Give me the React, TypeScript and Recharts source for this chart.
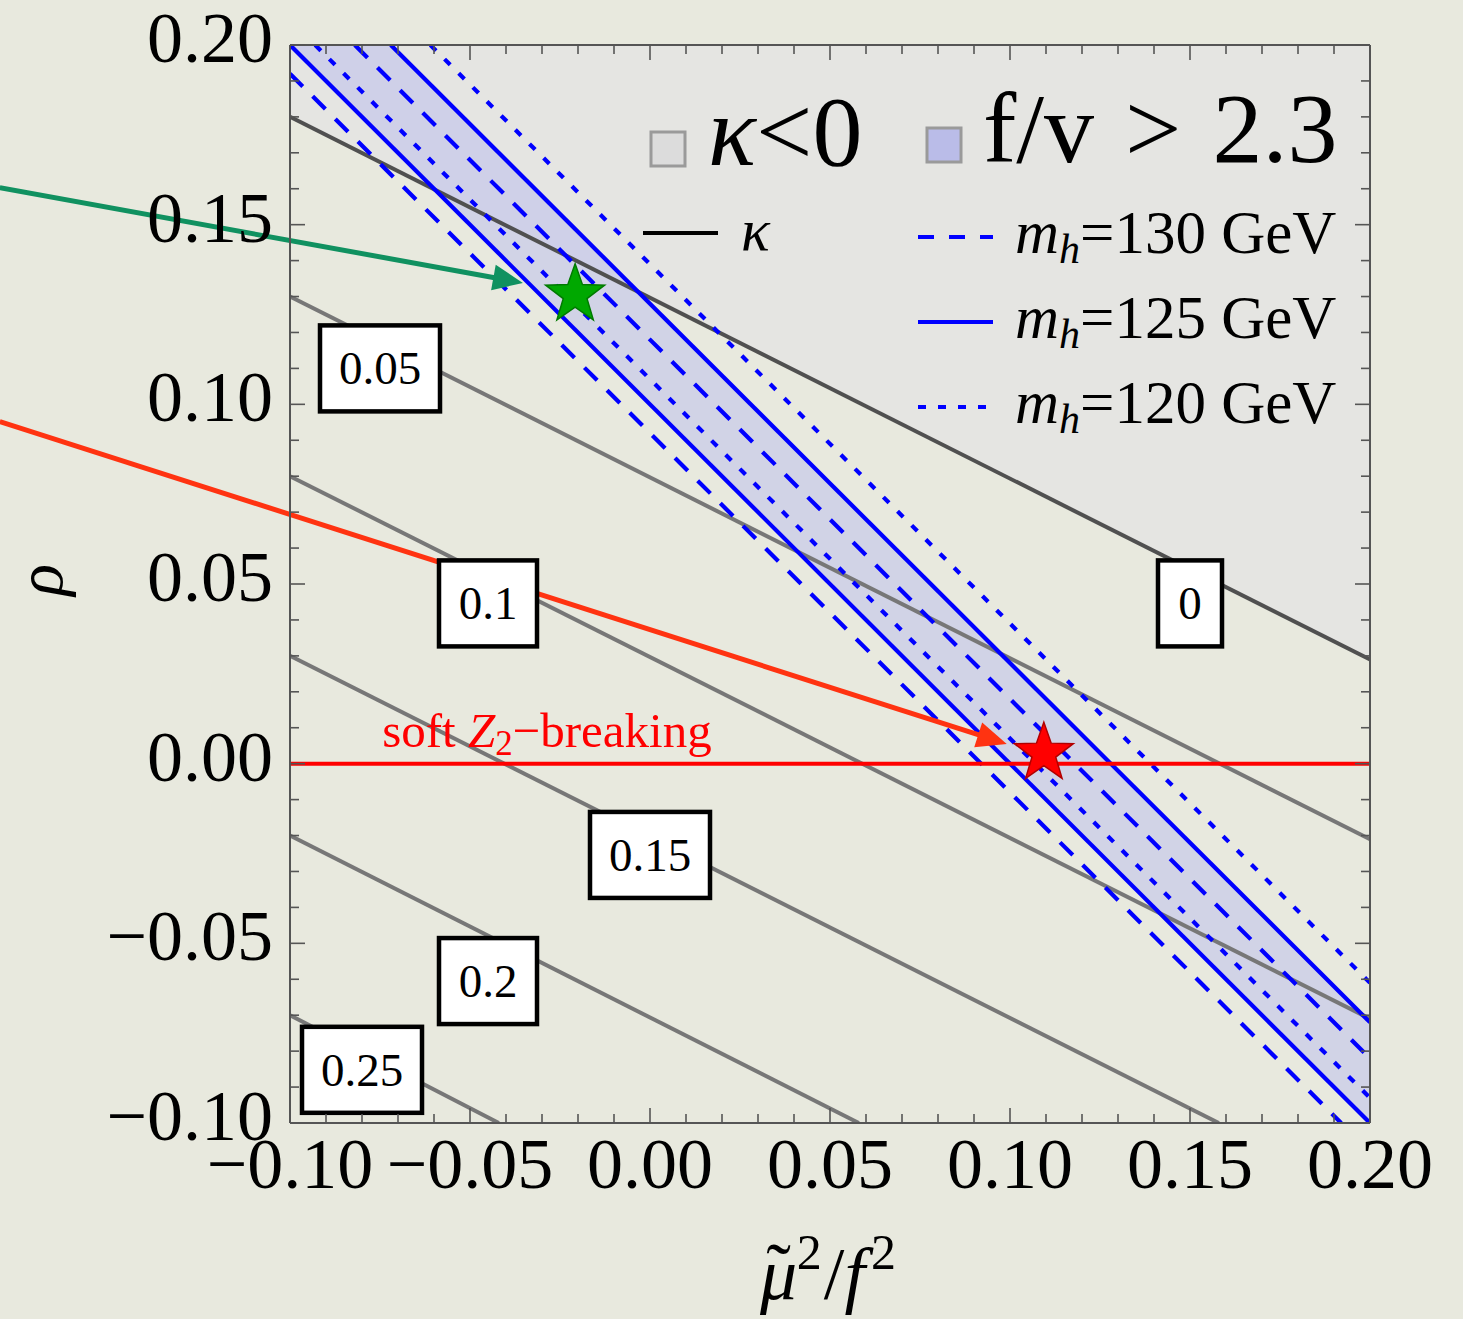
import React from 'react'
import { ComposedChart, Line, Area, XAxis, YAxis, Scatter, ReferenceLine, ReferenceDot, Legend } from 'recharts'

const FONT = "'Liberation Serif', 'Times New Roman', serif"
const PAPER = '#e8e9de'
const BLUE = '#0000ff'
const AXIS = '#555555'
const WIDTH = 1463
const HEIGHT = 1319

// frame ticks every 0.01, numbers every 0.05
const frameTicks = [
  -0.1, -0.09, -0.08, -0.07, -0.06, -0.05, -0.04, -0.03, -0.02, -0.01,
  0, 0.01, 0.02, 0.03, 0.04, 0.05, 0.06, 0.07, 0.08, 0.09,
  0.1, 0.11, 0.12, 0.13, 0.14, 0.15, 0.16, 0.17, 0.18, 0.19, 0.2,
]
const majorTicks = [-0.1, -0.05, 0, 0.05, 0.1, 0.15, 0.2]

// kappa contours (end points on the frame)
const kappa0 = [{ x: -0.1, y: 0.18 }, { x: 0.2, y: 0.029 }]
const kappa005 = [{ x: -0.1, y: 0.13 }, { x: 0.2, y: -0.021 }]
const kappa010 = [{ x: -0.1, y: 0.08 }, { x: 0.2, y: -0.071 }]
const kappa015 = [{ x: -0.1, y: 0.03 }, { x: 0.158, y: -0.1 }]
const kappa020 = [{ x: -0.1, y: -0.02 }, { x: 0.058, y: -0.1 }]
const kappa025 = [{ x: -0.1, y: -0.07 }, { x: -0.042, y: -0.1 }]
const kappaNegative = [
  { x: -0.1, low: 0.18, high: 0.2 },
  { x: 0.2, low: 0.029, high: 0.2 },
]

// m_h contours, lower and upper branch
const mh130Lower = [{ x: -0.1, y: 0.192 }, { x: 0.192, y: -0.1 }]
const mh125Lower = [{ x: -0.1, y: 0.2 }, { x: 0.2, y: -0.1 }]
const mh120Lower = [{ x: -0.093, y: 0.2 }, { x: 0.2, y: -0.093 }]
const mh130Upper = [{ x: -0.082, y: 0.2 }, { x: 0.2, y: -0.082 }]
const mh125Upper = [{ x: -0.072, y: 0.2 }, { x: 0.2, y: -0.072 }]
const mh120Upper = [{ x: -0.061, y: 0.2 }, { x: 0.2, y: -0.061 }]
// f/v > 2.3 band (clipped by the frame)
const fvBand = [
  { x: -0.1, low: 0.2, high: 0.228 },
  { x: 0.2, low: -0.1, high: -0.072 },
]

const contourLabels = [
  { x: -0.075, y: 0.11, text: '0.05' },
  { x: -0.045, y: 0.0446, text: '0.1' },
  { x: 0.0, y: -0.0254, text: '0.15' },
  { x: -0.045, y: -0.0605, text: '0.2' },
  { x: -0.08, y: -0.0852, text: '0.25' },
  { x: 0.15, y: 0.0446, text: '0' },
]

const greenStar = [{ x: -0.0208, y: 0.1305 }]
const redStar = [{ x: 0.1094, y: 0.0029 }]
const greenArrow = [{ x: -0.1806, y: 0.1603 }, { x: -0.0353, y: 0.1338 }]
const redArrow = [{ x: -0.1806, y: 0.0952 }, { x: 0.0991, y: 0.0055 }]
const softLabel = { x: -0.0744, y: 0.0047 }

const higgsMasses = ['130', '125', '120']
const massDash: Record<string, string | undefined> = { '130': '16 15', '125': undefined, '120': '8 12' }

const isMajor = (v: number) => majorTicks.some((m) => Math.abs(m - v) < 1e-6)
const fmt = (v: number) => (v < -1e-9 ? '\u2212' : '') + Math.abs(v).toFixed(2)

const BottomTick = ({ x, y, payload }: any) => {
  const major = isMajor(payload.value)
  return (
    <g>
      <line x1={x} x2={x} y1={y} y2={y - (major ? 15 : 9)} stroke={AXIS} strokeWidth={1.6} />
      {major && (
        <text x={x} y={y + 65} textAnchor="middle" fontFamily={FONT} fontSize={72} fill="#000">
          {fmt(payload.value)}
        </text>
      )}
    </g>
  )
}

const LeftTick = ({ x, y, payload }: any) => {
  const major = isMajor(payload.value)
  return (
    <g>
      <line x1={x} x2={x + (major ? 15 : 9)} y1={y} y2={y} stroke={AXIS} strokeWidth={1.6} />
      {major && (
        <text x={x - 17} y={y + 17} textAnchor="end" fontFamily={FONT} fontSize={72} fill="#000">
          {fmt(payload.value)}
        </text>
      )}
    </g>
  )
}

const TopTick = ({ x, y, payload }: any) => (
  <line x1={x} x2={x} y1={y} y2={y + (isMajor(payload.value) ? 15 : 9)} stroke={AXIS} strokeWidth={1.6} />
)

const RightTick = ({ x, y, payload }: any) => (
  <line x1={x} x2={x - (isMajor(payload.value) ? 15 : 9)} y1={y} y2={y} stroke={AXIS} strokeWidth={1.6} />
)

const RhoLabel = ({ viewBox }: any) => (
  <text
    x={viewBox.x + 62}
    y={viewBox.y + viewBox.height / 2 - 4}
    transform={`rotate(-90 ${viewBox.x + 62} ${viewBox.y + viewBox.height / 2 - 4})`}
    textAnchor="middle"
    fontFamily={FONT}
    fontStyle="italic"
    fontSize={66}
    fill="#000"
  >
    ρ
  </text>
)

const MuLabel = ({ viewBox }: any) => (
  <text x={viewBox.x + viewBox.width / 2 - 2} y={viewBox.y + 176} textAnchor="middle" fontFamily={FONT} fontSize={74} fill="#000">
    <tspan fontStyle="italic">{'\u03bc'}</tspan>
    <tspan dx={-31} dy={-4}>{'\u02dc'}</tspan>
    <tspan fontSize={50} dx={6} dy={-26}>2</tspan>
    <tspan dx={2} dy={30}>/</tspan>
    <tspan fontStyle="italic">f</tspan>
    <tspan fontSize={50} dx={6} dy={-30}>2</tspan>
  </text>
)

const ContourBox = (text: string) => (props: any) => {
  const { cx, cy } = props
  const w = text.length === 1 ? 64 : 22 * text.length + 32
  const h = 86
  return (
    <g>
      <rect x={cx - w / 2} y={cy - h / 2} width={w} height={h} fill="#fff" stroke="#000" strokeWidth={4.5} />
      <text x={cx} y={cy + 16} textAnchor="middle" fontFamily={FONT} fontSize={47} fill="#000">
        {text}
      </text>
    </g>
  )
}

const SoftText = (props: any) => (
  <text x={props.cx} y={props.cy} fontFamily={FONT} fontSize={49} fill="#ff0000">
    soft <tspan fontStyle="italic">Z</tspan>
    <tspan fontSize={35} dy={8}>2</tspan>
    <tspan dy={-8}>{'\u2212breaking'}</tspan>
  </text>
)

const starShape = (fill: string, stroke: string) => (props: any) => {
  const { cx, cy } = props
  const R = 31
  const r = 12.5
  const pts: string[] = []
  for (let i = 0; i < 10; i++) {
    const rad = i % 2 === 0 ? R : r
    const a = -Math.PI / 2 + (i * Math.PI) / 5
    pts.push(`${cx + rad * Math.cos(a)},${cy + rad * Math.sin(a)}`)
  }
  return <polygon points={pts.join(' ')} fill={fill} stroke={stroke} strokeWidth={1.5} />
}

const arrowShape = (color: string) => (props: any) => {
  const { x1, y1, x2, y2 } = props
  const dx = x2 - x1
  const dy = y2 - y1
  const len = Math.sqrt(dx * dx + dy * dy)
  const ux = dx / len
  const uy = dy / len
  const head = 30
  const half = 13
  const bx = x2 - ux * head
  const by = y2 - uy * head
  return (
    <g>
      <line x1={x1} y1={y1} x2={bx + ux * 4} y2={by + uy * 4} stroke={color} strokeWidth={5} />
      <polygon
        points={`${x2},${y2} ${bx - uy * half},${by + ux * half} ${bx + uy * half},${by - ux * half}`}
        fill={color}
      />
    </g>
  )
}

const LegendPanel = () => (
  <svg width={WIDTH} height={460} style={{ display: 'block' }}>
    <rect x={651} y={132} width={34} height={34} fill="#dcdcdc" stroke="#9a9a9a" strokeWidth={3} />
    <text x={708} y={165} fontFamily={FONT} fontSize={100} fill="#000">
      <tspan fontStyle="italic">κ</tspan>{'<0'}
    </text>
    <rect x={927} y={128} width={34} height={34} fill="#babce8" stroke="#9a9a9a" strokeWidth={3} />
    <text x={983} y={162} fontFamily={FONT} fontSize={100} wordSpacing={6} fill="#000">
      {'f/v > 2.3'}
    </text>
    <line x1={643} x2={718} y1={233} y2={233} stroke="#000" strokeWidth={4} />
    <text x={741} y={250} fontFamily={FONT} fontStyle="italic" fontSize={60} fill="#000">
      κ
    </text>
    {higgsMasses.map((m, i) => {
      const ly = 237 + i * 85
      return (
        <g key={m}>
          <line x1={918} x2={993} y1={ly} y2={ly} stroke={BLUE} strokeWidth={4} strokeDasharray={massDash[m]} />
          <text x={1015} y={ly + 16} fontFamily={FONT} fontSize={61} fill="#000">
            <tspan fontStyle="italic">m</tspan>
            <tspan fontStyle="italic" fontSize={42} dy={10}>h</tspan>
            <tspan dy={-10}>{`=${m} GeV`}</tspan>
          </text>
        </g>
      )
    })}
  </svg>
)

const kappaLines = [kappa005, kappa010, kappa015, kappa020, kappa025]

export default function App() {
  return (
    <div style={{ position: 'absolute', left: 0, top: 0, width: WIDTH, height: HEIGHT, background: PAPER }}>
      <ComposedChart width={WIDTH} height={HEIGHT} margin={{ top: 44, right: 92, bottom: 0, left: 0 }}>
        <XAxis
          xAxisId={0}
          type="number"
          dataKey="x"
          domain={[-0.1, 0.2]}
          allowDataOverflow
          ticks={frameTicks}
          interval={0}
          height={196}
          tickSize={0}
          tickMargin={0}
          tickLine={false}
          tick={<BottomTick />}
          axisLine={{ stroke: AXIS, strokeWidth: 2 }}
          label={<MuLabel />}
        />
        <XAxis
          xAxisId="top"
          orientation="top"
          type="number"
          dataKey="x"
          domain={[-0.1, 0.2]}
          allowDataOverflow
          ticks={frameTicks}
          interval={0}
          height={1}
          tickSize={0}
          tickMargin={0}
          tickLine={false}
          tick={<TopTick />}
          axisLine={{ stroke: AXIS, strokeWidth: 2 }}
        />
        <YAxis
          yAxisId={0}
          type="number"
          domain={[-0.1, 0.2]}
          allowDataOverflow
          ticks={frameTicks}
          interval={0}
          width={290}
          tickSize={0}
          tickMargin={0}
          tickLine={false}
          tick={<LeftTick />}
          axisLine={{ stroke: AXIS, strokeWidth: 2 }}
          label={<RhoLabel />}
        />
        <YAxis
          yAxisId="right"
          orientation="right"
          type="number"
          domain={[-0.1, 0.2]}
          allowDataOverflow
          ticks={frameTicks}
          interval={0}
          width={1}
          tickSize={0}
          tickMargin={0}
          tickLine={false}
          tick={<RightTick />}
          axisLine={{ stroke: AXIS, strokeWidth: 2 }}
        />

        <Area
          data={kappaNegative}
          dataKey={(d: any) => [d.low, d.high]}
          type="linear"
          fill="#e4e4e2"
          fillOpacity={0.8}
          stroke="none"
          isAnimationActive={false}
        />
        <Area
          data={fvBand}
          dataKey={(d: any) => [d.low, d.high]}
          type="linear"
          fill="#aeb2f2"
          fillOpacity={0.4}
          stroke="none"
          isAnimationActive={false}
        />

        {kappaLines.map((pts, i) => (
          <Line
            key={`k${i}`}
            data={pts}
            dataKey="y"
            type="linear"
            stroke="#777777"
            strokeWidth={4}
            dot={false}
            isAnimationActive={false}
          />
        ))}
        <Line data={kappa0} dataKey="y" type="linear" stroke="#505050" strokeWidth={4} dot={false} isAnimationActive={false} />

        <Line data={mh130Lower} dataKey="y" type="linear" stroke={BLUE} strokeWidth={4.2} strokeDasharray="18 14" dot={false} isAnimationActive={false} />
        <Line data={mh125Lower} dataKey="y" type="linear" stroke={BLUE} strokeWidth={4.2} dot={false} isAnimationActive={false} />
        <Line data={mh120Lower} dataKey="y" type="linear" stroke={BLUE} strokeWidth={4.2} strokeDasharray="8 12" dot={false} isAnimationActive={false} />
        <Line data={mh130Upper} dataKey="y" type="linear" stroke={BLUE} strokeWidth={4.2} strokeDasharray="18 14" dot={false} isAnimationActive={false} />
        <Line data={mh125Upper} dataKey="y" type="linear" stroke={BLUE} strokeWidth={4.2} dot={false} isAnimationActive={false} />
        <Line data={mh120Upper} dataKey="y" type="linear" stroke={BLUE} strokeWidth={4.2} strokeDasharray="8 12" dot={false} isAnimationActive={false} />

        <ReferenceLine y={0} stroke="#ff0000" strokeWidth={4} />

        {contourLabels.map((c) => (
          <ReferenceDot key={c.text} x={c.x} y={c.y} r={1} shape={ContourBox(c.text)} />
        ))}
        <ReferenceDot x={softLabel.x} y={softLabel.y} r={1} shape={SoftText} />

        <ReferenceLine segment={greenArrow} ifOverflow="visible" shape={arrowShape('#109160')} />
        <ReferenceLine segment={redArrow} ifOverflow="visible" shape={arrowShape('#ff3311')} />

        <Scatter data={greenStar} dataKey="y" shape={starShape('#00a800', '#007a00')} isAnimationActive={false} />
        <Scatter data={redStar} dataKey="y" shape={starShape('#ff0000', '#b00000')} isAnimationActive={false} />

        <Legend
          layout="vertical"
          align="center"
          verticalAlign="middle"
          content={<LegendPanel />}
          wrapperStyle={{ position: 'absolute', left: 0, top: 0, width: WIDTH, height: 460, pointerEvents: 'none' }}
        />
      </ComposedChart>
    </div>
  )
}
